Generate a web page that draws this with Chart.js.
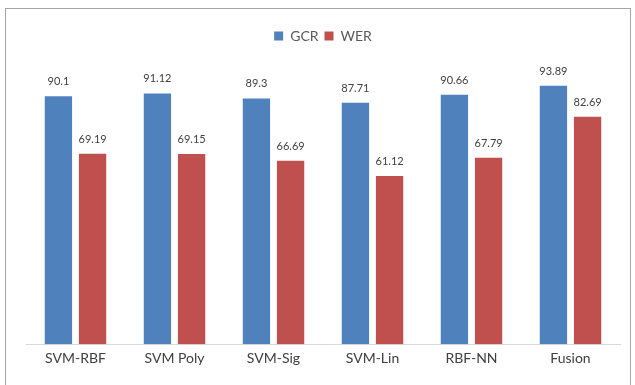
<!DOCTYPE html>
<html>
<head>
<meta charset="utf-8">
<script src="https://cdn.jsdelivr.net/npm/chart.js@4"></script>
<style>
  body { margin: 0; background: #fff; overflow: hidden; }
  #box { position: absolute; left: 5px; top: 8px; width: 624px; height: 380px; border: 1px solid #a6a6a6; }
  canvas { display: block; }
</style>
</head>
<body>
<div id="box"><canvas id="barChart" width="624" height="376"></canvas></div>
<script>
const categories = ['SVM-RBF', 'SVM Poly', 'SVM-Sig', 'SVM-Lin', 'RBF-NN', 'Fusion'];
const gcrValues = [90.1, 91.12, 89.3, 87.71, 90.66, 93.89];
const werValues = [69.19, 69.15, 66.69, 61.12, 67.79, 82.69];
const gcrLabels = ['90.1', '91.12', '89.3', '87.71', '90.66', '93.89'];
const werLabels = ['69.19', '69.15', '66.69', '61.12', '67.79', '82.69'];

// draws value labels above each bar
const valueLabels = {
  id: 'valueLabels',
  afterDatasetsDraw(chart) {
    const ctx = chart.ctx;
    const texts = [gcrLabels, werLabels];
    ctx.save();
    ctx.font = '11px Lato';
    ctx.fillStyle = '#404040';
    ctx.textAlign = 'center';
    ctx.textBaseline = 'bottom';
    chart.data.datasets.forEach((ds, i) => {
      chart.getDatasetMeta(i).data.forEach((bar, j) => {
        ctx.fillText(texts[i][j], bar.x, bar.y - 9);
      });
    });
    ctx.restore();
  }
};

// extra space under the legend
const legendGap = {
  id: 'legendGap',
  beforeInit(chart) {
    const fit = chart.legend.fit;
    chart.legend.fit = function () {
      fit.bind(chart.legend)();
      this.height += 16;
    };
  }
};

new Chart(document.getElementById('barChart'), {
  type: 'bar',
  data: {
    labels: categories,
    datasets: [
      { label: 'GCR', data: gcrValues, backgroundColor: '#4f81bd' },
      { label: 'WER', data: werValues, backgroundColor: '#c0504d' }
    ]
  },
  options: {
    responsive: false,
    animation: false,
    categoryPercentage: 0.69,
    barPercentage: 0.8,
    layout: { padding: { left: 20, right: 10, top: 14, bottom: 12 } },
    plugins: {
      legend: {
        labels: { boxWidth: 9, boxHeight: 9, font: { family: 'Lato', size: 14 }, color: '#595959', padding: 6 }
      },
      tooltip: { enabled: false }
    },
    scales: {
      x: {
        grid: { display: false, drawTicks: false },
        border: { display: true, color: '#d9d9d9', width: 1 },
        ticks: { font: { family: 'Lato', size: 14 }, color: '#404040', padding: 6 }
      },
      y: {
        display: false,
        min: 0,
        max: 100
      }
    }
  },
  plugins: [valueLabels, legendGap]
});
</script>
</body>
</html>
